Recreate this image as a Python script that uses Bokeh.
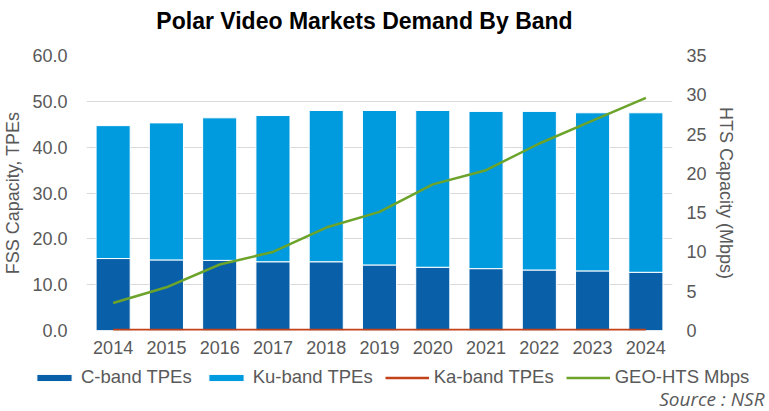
from bokeh.plotting import figure
from bokeh.models import (Range1d, LinearAxis, FixedTicker, NumeralTickFormatter, Label,
                          ColumnDataSource, Legend, LegendItem)
from bokeh.layouts import column
from bokeh.embed import file_html
from bokeh.resources import INLINE

years = ["2014", "2015", "2016", "2017", "2018", "2019", "2020", "2021", "2022", "2023", "2024"]
c_band = [15.7, 15.4, 15.3, 15.0, 15.0, 14.3, 13.8, 13.5, 13.2, 13.0, 12.7]
ku_band = [29.0, 29.9, 31.1, 31.9, 33.0, 33.7, 34.2, 34.3, 34.6, 34.5, 34.8]
ka_band = [0.0, 0.0, 0.0, 0.0, 0.0, 0.0, 0.0, 0.0, 0.0, 0.0, 0.0]
geo_hts = [3.5, 5.5, 8.4, 10.0, 13.1, 15.1, 18.6, 20.4, 23.8, 26.7, 29.6]
left_ticks = [0, 10, 20, 30, 40, 50, 60]
right_ticks = [0, 5, 10, 15, 20, 25, 30, 35]
series_names = ["C-band TPEs", "Ku-band TPEs", "Ka-band TPEs", "GEO-HTS Mbps"]
title_text = "Polar Video Markets Demand By Band"
source_text = "Source : NSR"

FONT = "Liberation Sans"
GREY = "#595959"
C_COL = "#0A60A8"
KU_COL = "#009ADE"
KA_COL = "#C4421A"
GEO_COL = "#6BA32B"
W = 769
NAN = float("nan")


def blank(height):
    f = figure(width=W, height=height, x_range=Range1d(0, W), y_range=Range1d(0, height),
               output_backend="svg", toolbar_location=None,
               x_axis_location=None, y_axis_location=None, frame_align=False,
               min_border_left=0, min_border_right=0, min_border_top=0, min_border_bottom=0)
    f.grid.visible = False
    f.outline_line_color = None
    f.background_fill_color = "white"
    f.border_fill_color = "white"
    return f


# ---- title strip
top = blank(40)
top.add_layout(Label(x=364, y=20, text=title_text, text_align="center", text_baseline="middle",
                     text_font=FONT, text_font_size="23px", text_font_style="bold",
                     text_color="black"))

# ---- main chart
src = ColumnDataSource(dict(year=years, c=c_band, ku=ku_band, ka=ka_band, geo=geo_hts))

p = figure(x_range=years, y_range=Range1d(0, 60), width=W, height=322,
           output_backend="svg", toolbar_location=None, frame_align=False,
           min_border_left=83, min_border_right=97, min_border_top=15, min_border_bottom=32)
p.extra_y_ranges = {"hts": Range1d(0, 35)}
p.outline_line_color = None
p.background_fill_color = "white"
p.border_fill_color = "white"
p.xgrid.grid_line_color = None
p.ygrid.grid_line_color = "#D9D9D9"
p.ygrid.grid_line_width = 1

p.vbar_stack(["c", "ku"], x="year", width=0.64, source=src,
             fill_color=[C_COL, KU_COL], line_color="white", line_width=1)
p.line("year", "ka", source=src, line_color=KA_COL, line_width=3.5)
p.line("year", "geo", source=src, y_range_name="hts", line_color=GEO_COL, line_width=2.5)

ya = p.yaxis[0]
ya.ticker = FixedTicker(ticks=left_ticks)
ya.formatter = NumeralTickFormatter(format="0.0")
ya.axis_label = "FSS Capacity, TPEs"

ra = LinearAxis(y_range_name="hts", ticker=FixedTicker(ticks=right_ticks),
                axis_label="HTS Capacity (Mbps)")
p.add_layout(ra, "right")

for ax in (ya, ra):
    ax.axis_line_color = None
    ax.major_tick_line_color = None
    ax.minor_tick_line_color = None
    ax.major_label_text_font = FONT
    ax.major_label_text_font_size = "18px"
    ax.major_label_text_color = GREY
    ax.axis_label_text_font = FONT
    ax.axis_label_text_font_size = "18px"
    ax.axis_label_text_font_style = "normal"
    ax.axis_label_text_color = GREY
    ax.axis_label_standoff = 6
ya.major_label_standoff = 13
ra.major_label_standoff = 8

xa = p.xaxis[0]
xa.axis_line_color = None
xa.major_tick_line_color = None
xa.minor_tick_line_color = None
xa.major_label_text_font = FONT
xa.major_label_text_font_size = "18px"
xa.major_label_text_color = GREY
xa.major_label_standoff = 4

# ---- legend + source strip (legend proxies carry the series styles)
bot = blank(49)
r_c = bot.vbar(x=[NAN], top=[NAN], width=1, fill_color=C_COL, line_color="white", line_width=1)
r_ku = bot.vbar(x=[NAN], top=[NAN], width=1, fill_color=KU_COL, line_color="white", line_width=1)
r_ka = bot.line(x=[NAN], y=[NAN], line_color=KA_COL, line_width=2.5)
r_geo = bot.line(x=[NAN], y=[NAN], line_color=GEO_COL, line_width=2.5)
lg = Legend(items=[LegendItem(label=series_names[0], renderers=[r_c]),
                   LegendItem(label=series_names[1], renderers=[r_ku]),
                   LegendItem(label=series_names[2], renderers=[r_ka]),
                   LegendItem(label=series_names[3], renderers=[r_geo])],
            orientation="horizontal", location=(32, 23),
            label_text_font=FONT, label_text_font_size="18.5px", label_text_color=GREY,
            glyph_width=44, glyph_height=9, label_standoff=5, spacing=12,
            padding=0, margin=0, border_line_color=None, background_fill_alpha=0)
bot.add_layout(lg, "center")
bot.add_layout(Label(x=764, y=13, text=source_text, text_align="right", text_baseline="middle",
                     text_font="Open Sans", text_font_style="italic", text_font_size="19px",
                     text_color=GREY))

layout = column(top, p, bot, spacing=0)
open("out.html", "w").write(file_html(layout, INLINE))
